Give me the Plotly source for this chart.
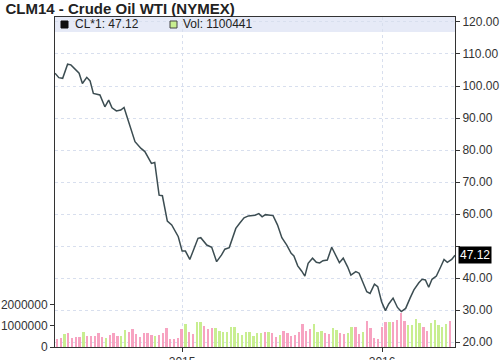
import plotly.graph_objects as go
import pandas as pd

# ---- data ----
price_dates = [
    "2014-05-14", "2014-05-21", "2014-05-28", "2014-06-06", "2014-06-12", "2014-06-19",
    "2014-06-27", "2014-07-03", "2014-07-11", "2014-07-17", "2014-07-23", "2014-08-04",
    "2014-08-13", "2014-08-20", "2014-08-26", "2014-09-03", "2014-09-11", "2014-09-17",
    "2014-09-26", "2014-10-07", "2014-10-18", "2014-10-25", "2014-11-06", "2014-11-12",
    "2014-11-20", "2014-11-26", "2014-12-05", "2014-12-13", "2014-12-25", "2015-01-01",
    "2015-01-07", "2015-01-15", "2015-01-23", "2015-01-30", "2015-02-04", "2015-02-15",
    "2015-02-24", "2015-03-05", "2015-03-14", "2015-03-20", "2015-03-28", "2015-04-09",
    "2015-04-16", "2015-04-24", "2015-05-02", "2015-05-14", "2015-05-21", "2015-05-27",
    "2015-06-02", "2015-06-16", "2015-06-24", "2015-07-02", "2015-07-11", "2015-07-19",
    "2015-07-24", "2015-07-31", "2015-08-07", "2015-08-13", "2015-08-19", "2015-08-27",
    "2015-09-03", "2015-09-09", "2015-09-15", "2015-09-23", "2015-10-01", "2015-10-07",
    "2015-10-15", "2015-10-22", "2015-10-30", "2015-11-05", "2015-11-14", "2015-11-20",
    "2015-11-27", "2015-12-04", "2015-12-10", "2015-12-18", "2015-12-24", "2015-12-31",
    "2016-01-07", "2016-01-13", "2016-01-21", "2016-01-29", "2016-02-05", "2016-02-13",
    "2016-02-21", "2016-02-28", "2016-03-08", "2016-03-14", "2016-03-20", "2016-03-26",
    "2016-04-01", "2016-04-09", "2016-04-17", "2016-04-23", "2016-04-29", "2016-05-07",
    "2016-05-13",
]
price_values = [
    104.0, 102.6, 102.4, 106.8, 106.6, 105.5,
    104.0, 100.8, 102.7, 101.6, 97.7, 97.2,
    93.5, 95.6, 93.2, 92.2, 92.5, 93.3,
    88.3, 82.6, 80.5, 79.5, 75.8, 76.1,
    65.9, 65.7, 57.8, 56.6, 52.9, 48.4,
    48.4, 45.8, 49.3, 52.4, 52.6, 50.3,
    49.6, 45.1, 47.2, 49.0, 49.5, 55.5,
    57.1, 58.8, 59.4, 59.6, 60.1, 59.1,
    59.8, 59.5, 56.6, 52.6, 50.3, 47.7,
    46.9, 43.8, 42.2, 40.6, 44.6, 46.2,
    44.9, 44.7, 45.4, 45.6, 49.6, 47.5,
    44.8, 46.2, 43.5, 40.9, 42.0, 41.5,
    38.3, 35.7, 35.2, 38.1, 37.3, 32.6,
    29.8, 31.9, 33.7, 30.8, 29.5, 30.5,
    33.7, 36.3, 38.5, 39.6, 39.4, 37.1,
    39.6, 40.6, 43.5, 45.8, 44.9, 45.8,
    47.12,
]

# weekly volume (millions) and direction (d = down/pink, u = up/green)
volume_millions = [
    0.37, 0.41, 0.62, 0.65, 0.41, 0.46, 0.49, 0.73, 0.52, 0.52, 0.52, 0.65, 0.46, 0.41,
    0.57, 0.68, 0.52, 0.52, 0.81, 0.73, 0.84, 0.60, 0.46, 0.68, 0.68, 0.57, 0.52, 0.57,
    0.68, 0.92, 0.37, 0.37, 0.41, 0.86, 1.08, 0.73, 0.62, 1.17, 1.17, 1.02, 0.84, 0.89,
    0.89, 0.78, 0.70, 0.70, 0.94, 0.94, 0.68, 0.57, 0.73, 0.73, 0.52,
    0.65, 0.65, 0.70, 0.70, 0.65, 0.49, 0.57, 0.78, 0.68, 0.52, 0.57, 0.73, 1.10, 0.78,
    0.84, 1.10, 0.73, 0.76, 0.65, 0.62, 0.89, 0.81, 0.65, 0.62, 0.65, 0.94, 0.94, 0.62,
    0.70, 1.25, 0.89, 0.41, 0.37, 0.94, 1.21, 1.21, 1.21, 1.29, 1.63, 1.25, 1.05, 1.05,
    1.33, 1.16, 0.97, 0.78, 1.16, 1.29, 1.05, 0.97, 1.10, 1.25,
]
volume_dir = list(
    "ddudddduddddduddduudddddddudddddddudduuddduuuuuuuuuu"
    "u"
    "uududdudddddddduuudduudduudduddddddudddduuuudduuuuuduuuudu"
)
volume_dir = volume_dir[:len(volume_millions)]
volume_dates = pd.date_range("2014-05-18", "2016-05-04", periods=len(volume_millions))

price_ticks = [20, 30, 40, 50, 60, 70, 80, 90, 100, 110, 120]
volume_ticks = [0, 1000000, 2000000]
year_ticks = ["2015-01-01", "2016-01-01"]
year_labels = ["2015", "2016"]
title_text = "CLM14 - Crude Oil WTI (NYMEX)"
last_price = 47.12
last_volume = 1100441

FONT = "Liberation Sans, Arial, sans-serif"
PINK = "#f7a3c1"
GREEN = "#c8ee90"

# the 50.00 label is hidden behind the last-price marker
price_ticktext = ["" if t == 50 else "%.2f" % t for t in price_ticks]

fig = go.Figure()
fig.add_trace(go.Bar(
    x=volume_dates, y=[v * 1e6 for v in volume_millions],
    marker=dict(color=[PINK if d == "d" else GREEN for d in volume_dir], line=dict(width=0)),
    width=3.4 * 86400000, yaxis="y2", hoverinfo="skip", showlegend=False,
))
fig.add_trace(go.Scatter(
    x=price_dates, y=price_values, mode="lines",
    line=dict(color="#3c4d52", width=1.5), showlegend=False,
))

fig.update_layout(
    width=500, height=360,
    margin=dict(l=55, r=45, t=17, b=13, autoexpand=False),
    paper_bgcolor="white", plot_bgcolor="white",
    font=dict(family=FONT, size=12, color="#333"),
    bargap=0,
    title=dict(text="<b>" + title_text + "</b>", x=0.011, xanchor="left",
               y=0.976, yanchor="middle", automargin=False,
               font=dict(family=FONT, size=15, color="#222")),
    xaxis=dict(
        type="date", range=["2014-05-14", "2016-05-13"], automargin=False,
        tickvals=year_ticks, ticktext=year_labels,
        ticks="outside", ticklen=4, tickcolor="#333",
        showgrid=True, gridcolor="#d8dfee", griddash="dot", gridwidth=1,
        showline=True, linecolor="#333", linewidth=1, mirror=True,
        zeroline=False, tickfont=dict(size=12, color="#333"),
    ),
    yaxis=dict(
        side="right", range=[18.44, 121.56], automargin=False,
        tickvals=price_ticks, ticktext=price_ticktext,
        ticks="outside", ticklen=4, tickcolor="#333",
        showgrid=True, gridcolor="#d8dfee", griddash="dot", gridwidth=1,
        showline=True, linecolor="#333", linewidth=1, mirror=True,
        zeroline=False, tickfont=dict(size=12, color="#333"),
    ),
    yaxis2=dict(
        overlaying="y", side="left", range=[0, 15.7e6], automargin=False,
        tickvals=volume_ticks, ticktext=[str(t) for t in volume_ticks],
        ticks="outside", ticklen=4, tickcolor="#333",
        showgrid=False, zeroline=False, showline=False,
        tickfont=dict(size=12, color="#333"),
    ),
)

# legend strip
fig.add_shape(type="rect", xref="paper", yref="paper", x0=0, x1=1,
              y0=(347 - 32) / 330, y1=1, fillcolor="#e6eaf7",
              line=dict(width=0), layer="below")
fig.add_shape(type="rect", xref="paper", yref="paper",
              x0=(61 - 55) / 400, x1=(68 - 55) / 400,
              y0=(347 - 28) / 330, y1=(347 - 21) / 330,
              fillcolor="#111", line=dict(color="#111", width=1))
fig.add_shape(type="rect", xref="paper", yref="paper",
              x0=(170 - 55) / 400, x1=(177 - 55) / 400,
              y0=(347 - 28) / 330, y1=(347 - 21) / 330,
              fillcolor=GREEN, line=dict(color="#444", width=1))
fig.add_annotation(xref="paper", yref="paper", x=(73 - 55) / 400, y=(347 - 24.5) / 330,
                   text="CL*1: %.2f" % last_price, showarrow=False,
                   xanchor="left", yanchor="middle",
                   font=dict(family=FONT, size=12, color="#222"))
fig.add_annotation(xref="paper", yref="paper", x=(181 - 55) / 400, y=(347 - 24.5) / 330,
                   text="Vol: %d" % last_volume, showarrow=False,
                   xanchor="left", yanchor="middle",
                   font=dict(family=FONT, size=12, color="#222"))
# last price marker
fig.add_annotation(xref="paper", yref="y", x=1.0075, y=last_price,
                   text="%.2f" % last_price, showarrow=False,
                   xanchor="left", yanchor="middle", bgcolor="#000",
                   borderpad=1,
                   font=dict(family=FONT, size=12, color="white"))

fig.write_html("out.html", config={"displayModeBar": False},
               post_script="document.body.style.margin='0';document.body.style.overflow='hidden';")
